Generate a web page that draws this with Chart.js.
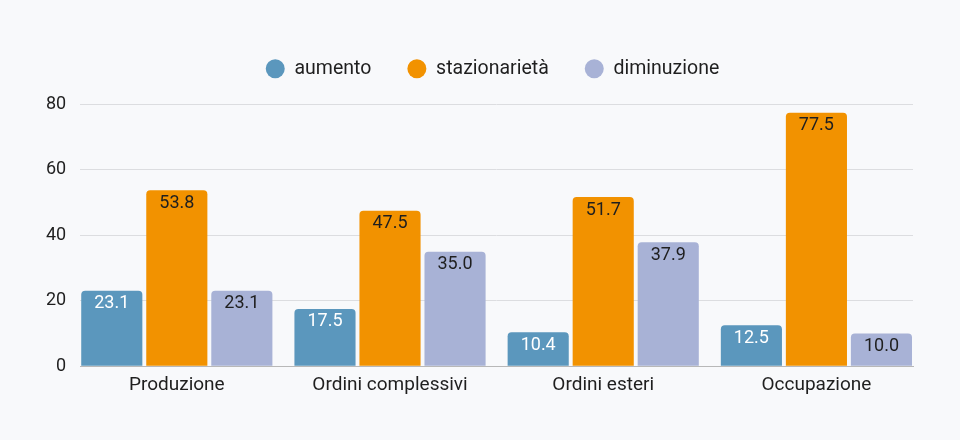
<!DOCTYPE html>
<html>
<head>
<meta charset="utf-8">
<script src="https://cdn.jsdelivr.net/npm/chart.js@4.4.0/dist/chart.umd.min.js"></script>
<style>
  html, body { margin: 0; padding: 0; background: #f8f9fb; }
  #wrap { width: 960px; height: 440px; }
</style>
</head>
<body>
<div id="wrap"><canvas id="chart"></canvas></div>
<script>
const categories = ["Produzione", "Ordini complessivi", "Ordini esteri", "Occupazione"];
const aumento = [23.1, 17.5, 10.4, 12.5];
const stazionarieta = [53.8, 47.5, 51.7, 77.5];
const diminuzione = [23.1, 35.0, 37.9, 10.0];
const yTicks = [0, 20, 40, 60, 80];

const textColor = "#1f1f1f";
const fontFamily = "Roboto, 'Noto Sans', sans-serif";

// value labels drawn just inside the top of each bar
const barLabels = {
    id: "barLabels",
    afterDatasetsDraw(chart) {
        const ctx = chart.ctx;
        ctx.save();
        ctx.font = "18px " + fontFamily;
        ctx.textAlign = "center";
        ctx.textBaseline = "middle";
        chart.data.datasets.forEach((ds, di) => {
            const meta = chart.getDatasetMeta(di);
            meta.data.forEach((bar, i) => {
                ctx.fillStyle = ds.labelColor;
                ctx.fillText(ds.data[i].y.toFixed(1), bar.x, bar.y + 13);
            });
        });
        ctx.restore();
    }
};

// extra space between legend and plot, legend nudged to the plot centre
const legendGap = {
    id: "legendGap",
    beforeInit(chart) {
        const fit = chart.legend.fit;
        chart.legend.fit = function () {
            fit.bind(chart.legend)();
            this.height += 16;
        };
    },
    afterLayout(chart) {
        chart.legend.left += 20;
        chart.legend.right += 20;
    }
};

const toPoints = arr => arr.map((v, i) => ({ x: i, y: v }));

new Chart(document.getElementById("chart"), {
    type: "bar",
    data: {
        datasets: [
            { label: "aumento", data: toPoints(aumento), backgroundColor: "#5b97bd", labelColor: "#ffffff" },
            { label: "stazionarietà", data: toPoints(stazionarieta), backgroundColor: "#f29200", labelColor: textColor },
            { label: "diminuzione", data: toPoints(diminuzione), backgroundColor: "#a8b2d6", labelColor: textColor }
        ]
    },
    options: {
        responsive: true,
        maintainAspectRatio: false,
        animation: false,
        devicePixelRatio: 1,
        layout: { padding: { top: 23, left: 32, right: 47, bottom: 43 } },
        datasets: {
            bar: {
                categoryPercentage: 0.915,
                barPercentage: 0.94,
                borderRadius: { topLeft: 4, topRight: 4 },
                borderSkipped: "start"
            }
        },
        plugins: {
            legend: {
                position: "top",
                labels: {
                    usePointStyle: true,
                    pointStyle: "circle",
                    pointStyleWidth: 19,
                    boxHeight: 13.4,
                    padding: 36,
                    color: textColor,
                    font: { family: fontFamily, size: 19.5 }
                }
            },
            tooltip: { enabled: false }
        },
        scales: {
            x: {
                type: "linear",
                offset: false,
                min: -0.453,
                max: 3.453,
                grid: { display: false },
                border: { display: true, color: "#b8b8b8" },
                afterBuildTicks: scale => {
                    scale.ticks = categories.map((c, i) => ({ value: i }));
                },
                ticks: {
                    color: textColor,
                    padding: 0,
                    font: { family: fontFamily, size: 19 },
                    callback: v => categories[v]
                }
            },
            y: {
                min: 0,
                max: 80,
                afterBuildTicks: scale => {
                    scale.ticks = yTicks.map(v => ({ value: v }));
                },
                grid: { color: "#dcdde0", drawTicks: false },
                border: { display: false },
                ticks: {
                    color: textColor,
                    padding: 14,
                    font: { family: fontFamily, size: 18 }
                }
            }
        }
    },
    plugins: [barLabels, legendGap]
});
</script>
</body>
</html>
